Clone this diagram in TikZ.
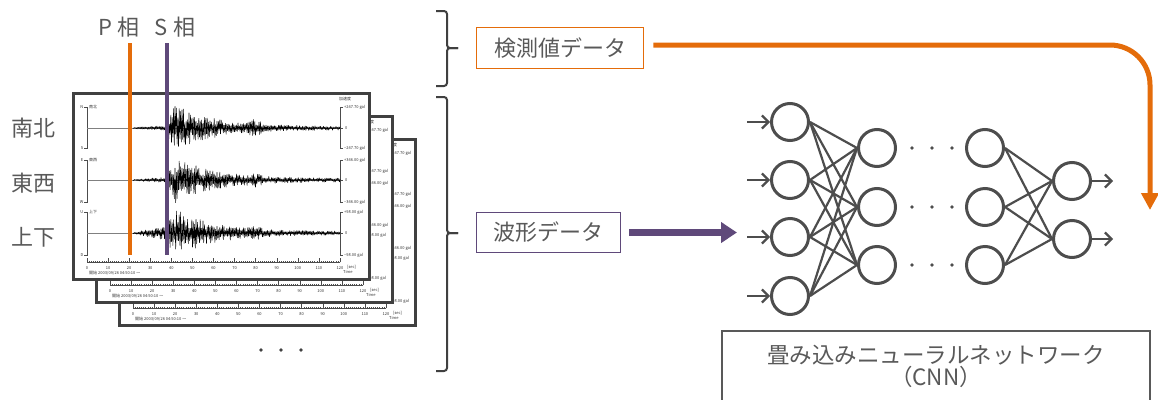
\documentclass[tikz,border=0pt]{standalone}
\usepackage{fontspec}
\setmainfont{Noto Sans CJK JP}
\usetikzlibrary{arrows.meta}
\definecolor{cOrange}{HTML}{E46C0A}
\definecolor{cPurple}{HTML}{5F497A}
\definecolor{cText}{HTML}{595959}
\definecolor{cLine}{HTML}{404040}
\definecolor{cNet}{HTML}{4D4D4D}
\tikzset{
 lbl/.style={font=\fontsize{22pt}{24pt}\selectfont, text=cText, inner sep=0pt},
 tinylbl/.style={font=\fontsize{4pt}{4.5pt}\selectfont, text=black!80, inner sep=0pt},
 sheet/.style={draw=cLine, line width=3pt, fill=white},
 wave/.style={line width=0.5pt, black, line join=round},
 baseln/.style={line width=0.4pt, gray},
 axisln/.style={line width=0.4pt, black!70},
 neuron/.style={circle, draw=cNet, line width=3pt, minimum size=37pt, inner sep=0pt},
 link/.style={draw=cNet, line width=2.2pt},
 io/.style={draw=cNet, line width=2.2pt, -{Straight Barb[length=6.5pt,width=13pt]}},
 bracestyle/.style={draw=cLine, line width=2pt, rounded corners=3pt},
}
\newcommand\seissheet[1]{%
 \draw[sheet] (73.5,93.5) rectangle (369.5,279.5);
 \node[tinylbl, anchor=south west] (#1acc) at (339,101) {加速度};
 \foreach \ty/\by/\dy/\la/\lb/\lc/\val/\pa/\am/\bm in {107/128/148/N/南北/S/247.70/2/24/6, 160/180/202/E/東西/W/346.00/2.5/24/3, 212/233/255/U/上下/D/98.00/7/25/3}{
   \draw[axisln] (84,\ty) -- (87,\ty) -- (87,\dy) -- (84,\dy);
   \draw[axisln] (343,\ty) -- (340,\ty) -- (340,\dy) -- (343,\dy);
   \draw[axisln] (340,\by) -- (343,\by);
   \node[tinylbl, anchor=east] (#1\la1) at (83.5,\ty) {\la};
   \node[tinylbl, anchor=west] (#1\la2) at (89,\ty) {\lb};
   \node[tinylbl, anchor=east] (#1\la3) at (83.5,\dy) {\lc};
   \node[tinylbl, anchor=west] (#1\la4) at (344,\ty) {+\val\ gal};
   \node[tinylbl, anchor=west] (#1\la5) at (345,\by) {0};
   \node[tinylbl, anchor=west] (#1\la6) at (344,\dy) {−\val\ gal};
   \draw[baseln] (87,\by) -- (340,\by);
   \draw[wave] (133,\by) \foreach \i [evaluate=\i as \xx using 133+\i*0.7] in {1,...,296} { -- (\xx,{\by+ifthenelse(\xx<166, 0.6+\pa*(\xx-133)/33, 1.8+\am*min(1,(\xx-164)/12)*exp(-(\xx-172)/38)+\bm*max(0,1-abs(\xx-255)/10))*(2*mod(\i,2)-1)*(0.25+0.75*rnd)}) };
 }
 \draw[axisln] (87,262) -- (340,262);
 \foreach \k in {0,...,120} \draw[axisln] ({87+\k*2.108},262) -- ++(0,-1.5);
 \foreach \k in {0,...,12} {
   \draw[axisln] ({87+\k*21.08},262) -- ++(0,-4);
   \pgfmathtruncatemacro\lab{10*\k}
   \node[tinylbl] (#1t\k) at ({87+\k*21.08},268) {\lab};
 }
 \node[tinylbl, anchor=west] (#1sec) at (347,267) {[sec]};
 \node[tinylbl, anchor=west] (#1time) at (343,272) {Time};
 \node[tinylbl, anchor=west] (#1start) at (89,273) {開始 2003/09/26 04:50:10 〜};
}
\begin{document}
\begin{tikzpicture}[x=1pt,y=-1pt]
\useasboundingbox (0,0) rectangle (1158,399);
% seismogram sheets
\begin{scope}[shift={(46,46)}]\pgfmathsetseed{11}\seissheet{c}\end{scope}
\begin{scope}[shift={(23,23)}]\pgfmathsetseed{7}\seissheet{b}\end{scope}
\pgfmathsetseed{3}\seissheet{a}
% dots under sheets
\foreach \x in {261,281,301} \fill[cLine] (\x,350) circle (1.8pt);
% component labels
\node[lbl] (ns) at (33,128) {南北};
\node[lbl] (ew) at (33,183) {東西};
\node[lbl] (ud) at (33,237) {上下};
% phase picks
\node[lbl] (plabel) at (119,27) {P\hspace{5pt}相};
\node[lbl] (slabel) at (175,27) {S\hspace{5pt}相};
\coordinate (ptop) at (130,43); \coordinate (pbot) at (130,255);
\coordinate (stop) at (167,43); \coordinate (sbot) at (167,255);
\draw[cOrange, line width=4.5pt] (ptop) -- (pbot);
\draw[cPurple, line width=4.5pt] (stop) -- (sbot);
% braces
\draw[bracestyle] (436,11) -- (447,11) -- (447,48) -- (458,48);
\draw[bracestyle] (458,48) -- (447,48) -- (447,86) -- (436,86);
\draw[bracestyle] (436,97) -- (447,97) -- (447,233) -- (458,233);
\draw[bracestyle] (458,233) -- (447,233) -- (447,371) -- (436,371);
% data boxes
\node[lbl, draw=cOrange, line width=1.5pt, minimum width=167pt, minimum height=41pt] (kensoku) at (560,48) {検測値データ};
\node[lbl, draw=cPurple, line width=1.5pt, minimum width=144pt, minimum height=40pt] (hakei) at (548.5,232.5) {波形データ};
\coordinate (oend) at (1150,210);
\draw[cOrange, line width=5pt, rounded corners=40pt, -{Triangle[length=17pt,width=17pt]}] ([xshift=9pt,yshift=3pt]kensoku.east) -| (oend);
\coordinate (pend) at (737,232.5);
\draw[cPurple, line width=7pt, -{Triangle[length=16pt,width=20pt]}] ([xshift=8pt]hakei.east) -- (pend);
% neural network
\foreach \n/\y in {1/122,2/180,3/237,4/296} {
  \node[neuron] (a\n) at (790,\y) {};
  \coordinate (in\n) at (747,\y);
  \draw[io] (in\n) -- (a\n.west);
}
\foreach \n/\y in {1/148,2/207,3/265} {
  \node[neuron] (b\n) at (877,\y) {};
  \node[neuron] (c\n) at (985,\y) {};
  \foreach \x in {912,932,952} \fill[cNet] (\x,\y) circle (1.8pt);
}
\foreach \n/\y in {1/181,2/239} {
  \node[neuron] (d\n) at (1072,\y) {};
  \coordinate (out\n) at (1113,\y);
  \draw[io] (d\n.east) -- (out\n);
}
\foreach \i in {1,...,4} \foreach \j in {1,2,3} \draw[link] (a\i.east) -- (b\j.west);
\foreach \i in {1,2,3} \foreach \j in {1,2} \draw[link] (c\i.east) -- (d\j.west);
% CNN caption box
\node[lbl, draw=cText, line width=1.5pt, minimum width=428pt, minimum height=72pt, anchor=north, align=center, font=\fontsize{22.5pt}{20pt}\selectfont] (cnn) at (936,330) {畳み込みニューラルネットワーク\\（CNN）};
\end{tikzpicture}
\end{document}
